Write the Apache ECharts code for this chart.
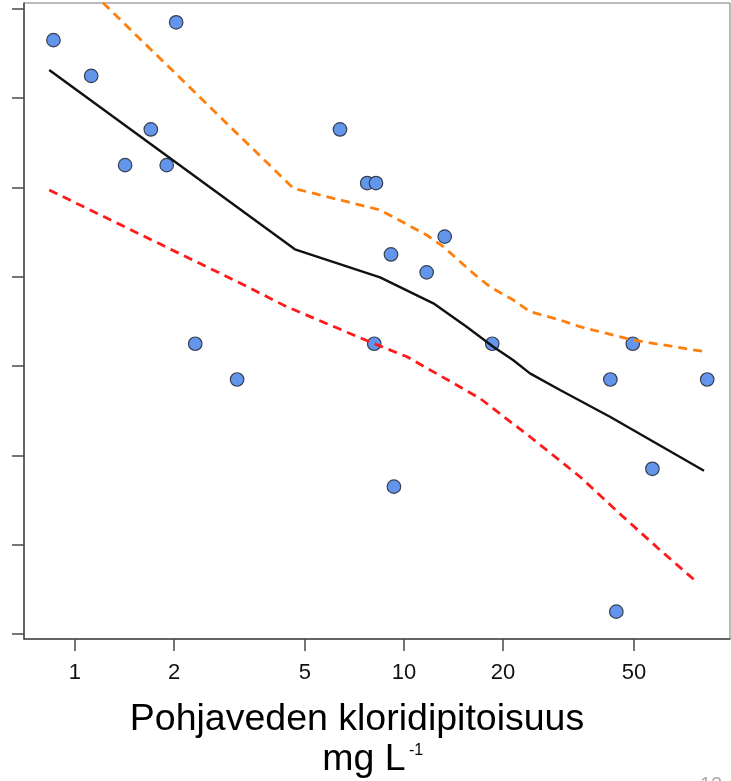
<!DOCTYPE html>
<html>
<head>
<meta charset="utf-8">
<script src="https://cdn.jsdelivr.net/npm/echarts@6/dist/echarts.min.js"></script>
<style>
  html, body { margin: 0; padding: 0; background: #fff; }
  #chart { width: 731px; height: 781px; }
</style>
</head>
<body>
<div id="chart"></div>
<script>
// chloride (mg/L, log axis) vs. response, with fit and bands
var chlorideMgL = [0.86, 1.12, 2.03, 1.70, 1.42, 1.90, 2.32, 3.11, 6.39, 7.73, 8.22,
  9.13, 11.72, 13.3, 8.12, 9.32, 18.55, 42.4, 49.6, 83.5, 56.9, 44.2];
var response = [6.65, 6.25, 6.85, 5.65, 5.25, 5.25, 3.25, 2.85, 5.65, 5.05, 5.05,
  4.25, 4.05, 4.45, 3.25, 1.65, 3.25, 2.85, 3.25, 2.85, 1.85, 0.25];

var fitX = [0.835, 4.66, 8.46, 12.28, 15.5, 18.68, 21.45, 24.15, 29.81, 42.28, 81.65];
var fitY = [6.316, 4.308, 3.994, 3.703, 3.441, 3.217, 3.068, 2.919, 2.732, 2.433, 1.829];

var upperX = [0.835, 4.61, 8.46, 11.72, 13.17, 16.24, 18.25, 21.49, 24.15, 29.81, 34.27, 49.66, 82.2];
var upperY = [7.655, 4.991, 4.748, 4.468, 4.337, 4.039, 3.889, 3.740, 3.609, 3.516, 3.441, 3.292, 3.161];

var lowerX = [0.835, 3.17, 4.40, 8.07, 10.21, 17.02, 24.15, 34.27, 46.32, 60.0, 78.25];
var lowerY = [4.972, 3.931, 3.665, 3.255, 3.105, 2.639, 2.209, 1.761, 1.314, 0.941, 0.571];

var xTicks = [1, 2, 5, 10, 20, 50];
var yTicks = [0, 1, 2, 3, 4, 5, 6, 7];

function pairs(xs, ys) {
  return xs.map(function(x, i) { return [Math.log10(x), ys[i]]; });
}

var chart = echarts.init(document.getElementById('chart'), null, { renderer: 'canvas' });
var font = '"Liberation Sans", Arial, sans-serif';
var axisColor = '#4a4a4a';

chart.setOption({
  animation: false,
  grid: {
    left: 24, right: 1, top: 3, bottom: 142,
    show: true, borderColor: '#777', borderWidth: 1
  },
  xAxis: {
    type: 'value',
    min: -0.155, max: 1.991,
    axisLine: { onZero: false, lineStyle: { color: axisColor, width: 1.5 } },
    axisTick: { length: 12, lineStyle: { color: axisColor, width: 1.5 },
      customValues: xTicks.map(Math.log10) },
    axisLabel: {
      customValues: xTicks.map(Math.log10),
      margin: 23, color: '#111', fontSize: 22, fontFamily: font,
      formatter: function(v) { return String(Math.round(Math.pow(10, v))); }
    },
    splitLine: { show: false }
  },
  yAxis: {
    type: 'value',
    min: -0.056, max: 7.066,
    axisLine: { onZero: false, lineStyle: { color: axisColor, width: 1.5 } },
    axisTick: { length: 12, lineStyle: { color: axisColor, width: 1.5 }, customValues: yTicks },
    axisLabel: { show: false },
    splitLine: { show: false }
  },
  series: [
    {
      type: 'scatter',
      data: pairs(chlorideMgL, response),
      symbolSize: 13.5,
      itemStyle: { color: '#6495ed', borderColor: '#353f50', borderWidth: 1.2, opacity: 1 }
    },
    {
      type: 'line',
      data: pairs(fitX, fitY),
      symbol: 'none',
      lineStyle: { color: '#111', width: 2.4 }
    },
    {
      type: 'line',
      data: pairs(upperX, upperY),
      symbol: 'none',
      clip: true,
      lineStyle: { color: '#ff7f0e', width: 2.8, type: [9, 6] }
    },
    {
      type: 'line',
      data: pairs(lowerX, lowerY),
      symbol: 'none',
      lineStyle: { color: '#ff1a1a', width: 2.8, type: [9, 6] }
    }
  ],
  graphic: [
    {
      type: 'text', x: 357, y: 720,
      style: { text: 'Pohjaveden kloridipitoisuus', fill: '#000',
        font: '37.5px ' + font, textAlign: 'center', textVerticalAlign: 'middle' }
    },
    {
      type: 'text', x: 364, y: 760,
      style: { text: 'mg L', fill: '#000',
        font: '37.5px ' + font, textAlign: 'center', textVerticalAlign: 'middle' }
    },
    {
      type: 'text', x: 409, y: 743,
      style: { text: '-1', fill: '#000',
        font: '16px ' + font, textAlign: 'left', textVerticalAlign: 'top' }
    },
    {
      type: 'text', x: 700, y: 775,
      style: { text: '12', fill: '#aaa',
        font: '20px ' + font, textAlign: 'left', textVerticalAlign: 'top' }
    }
  ]
});
window.addEventListener('resize', function() { chart.resize(); });
</script>
</body>
</html>
